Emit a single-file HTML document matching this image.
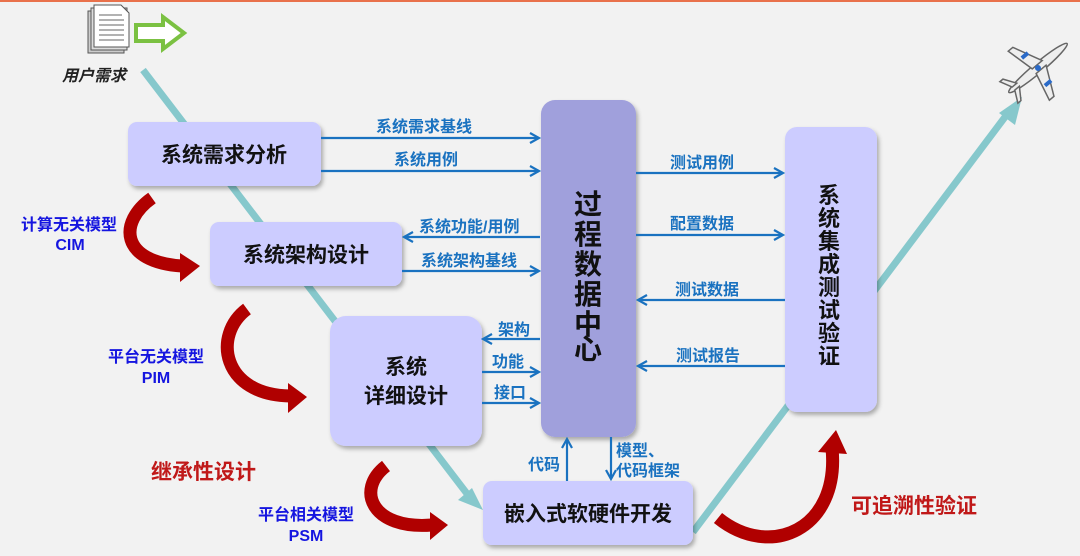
<!DOCTYPE html>
<html><head><meta charset="utf-8"><style>
html,body{margin:0;padding:0;background:#f2f2f2;}
svg{display:block;}
text{font-family:"Liberation Sans","Noto Sans CJK SC",sans-serif;font-weight:bold;}
</style></head><body>
<svg width="1080" height="556" viewBox="0 0 1080 556" xmlns="http://www.w3.org/2000/svg">
<defs>
<marker id="ah" markerWidth="12" markerHeight="12" refX="10" refY="6" orient="auto" markerUnits="userSpaceOnUse">
<path d="M1,1 L10,6 L1,11" fill="none" stroke="#1a72c0" stroke-width="2.2"/></marker>
<filter id="sh" x="-10%" y="-10%" width="130%" height="130%"><feDropShadow dx="2" dy="3" stdDeviation="2" flood-color="#000" flood-opacity="0.3"/></filter>
</defs>
<rect x="0" y="0" width="1080" height="2" fill="#e9714b"/>
<line x1="143" y1="70" x2="468" y2="495" stroke="#86c8cc" stroke-width="7"/>
<polygon points="483,510 458,500 472,488" fill="#86c8cc"/>
<line x1="693" y1="532" x2="1008" y2="113" stroke="#86c8cc" stroke-width="7"/>
<polygon points="1022,97 1015,125 999,113" fill="#86c8cc"/>
<g stroke="#555" stroke-width="1" fill="#fff">
<rect x="88" y="11" width="36" height="42" fill="#ccc"/>
<rect x="91" y="8" width="36" height="42" fill="#ddd"/>
<path d="M94,5 H121 L129,13 V47 H94 Z"/>
</g>
<g stroke="#666" stroke-width="1"><line x1="99" y1="15" x2="122" y2="15"/><line x1="99" y1="20" x2="124" y2="20"/><line x1="99" y1="25" x2="124" y2="25"/><line x1="99" y1="30" x2="124" y2="30"/><line x1="99" y1="35" x2="124" y2="35"/><line x1="99" y1="40" x2="124" y2="40"/></g>
<polygon points="136,25 163,25 163,17 184,33 163,49 163,41 136,41" fill="#fff" stroke="#7bc142" stroke-width="4"/>
<text x="62" y="81" font-size="16" font-style="italic" fill="#222">用户需求</text>
<g transform="translate(1038,68) rotate(-40)" stroke="#666" stroke-width="1.5" fill="#eee">
<ellipse cx="0" cy="0" rx="38" ry="5"/>
<polygon points="-5,-3 -12,-32 -6,-32 8,-3"/>
<polygon points="-5,3 -12,32 -6,32 8,3"/>
<polygon points="-32,-2 -38,-14 -34,-14 -26,-2"/>
<polygon points="-32,2 -38,14 -34,14 -26,2"/>
<circle cx="0" cy="0" r="3" fill="#2a6ac8" stroke="none"/>
<rect x="-6" y="-20" width="8" height="4" fill="#2a6ac8" stroke="none"/>
<rect x="-6" y="16" width="8" height="4" fill="#2a6ac8" stroke="none"/>
</g>
<g filter="url(#sh)">
<rect x="128" y="122" width="193" height="64" rx="9" fill="#ccccff"/>
<rect x="210" y="222" width="192" height="64" rx="9" fill="#ccccff"/>
<rect x="330" y="316" width="152" height="130" rx="16" fill="#ccccff"/>
<rect x="541" y="100" width="95" height="337" rx="14" fill="#a0a0dc"/>
<rect x="785" y="127" width="92" height="285" rx="12" fill="#ccccff"/>
<rect x="483" y="481" width="210" height="64" rx="9" fill="#ccccff"/>
</g>
<g fill="#111" text-anchor="middle" font-size="21">
<text x="224" y="162">系统需求分析</text>
<text x="306" y="262">系统架构设计</text>
<text x="406" y="374">系统</text>
<text x="406" y="403">详细设计</text>
<text x="588" y="521">嵌入式软硬件开发</text>
</g>
<g fill="#111" text-anchor="middle" font-size="28">
<text x="588" y="214">过</text><text x="588" y="244">程</text><text x="588" y="274">数</text><text x="588" y="304">据</text><text x="588" y="334">中</text><text x="588" y="359">心</text>
</g>
<g fill="#111" text-anchor="middle" font-size="22">
<text x="829" y="203">系</text><text x="829" y="226">统</text><text x="829" y="249">集</text><text x="829" y="272">成</text><text x="829" y="295">测</text><text x="829" y="318">试</text><text x="829" y="341">验</text><text x="829" y="364">证</text>
</g>
<g stroke="#1a72c0" stroke-width="2.2" marker-end="url(#ah)">
<line x1="321" y1="138" x2="539" y2="138"/>
<line x1="321" y1="171" x2="539" y2="171"/>
<line x1="540" y1="237" x2="404" y2="237"/>
<line x1="402" y1="271" x2="539" y2="271"/>
<line x1="540" y1="339" x2="483" y2="339"/>
<line x1="482" y1="372" x2="539" y2="372"/>
<line x1="482" y1="403" x2="539" y2="403"/>
<line x1="636" y1="173" x2="783" y2="173"/>
<line x1="636" y1="235" x2="783" y2="235"/>
<line x1="785" y1="300" x2="638" y2="300"/>
<line x1="785" y1="366" x2="638" y2="366"/>
<line x1="567" y1="481" x2="567" y2="439"/>
<line x1="611" y1="437" x2="611" y2="479"/>
</g>
<g fill="#1a72c0" font-size="16">
<text x="376" y="132">系统需求基线</text>
<text x="394" y="165">系统用例</text>
<text x="419" y="232">系统功能/用例</text>
<text x="421" y="266">系统架构基线</text>
<text x="498" y="335">架构</text>
<text x="492" y="367">功能</text>
<text x="494" y="398">接口</text>
<text x="670" y="168">测试用例</text>
<text x="670" y="229">配置数据</text>
<text x="675" y="295">测试数据</text>
<text x="676" y="361">测试报告</text>
<text x="528" y="470">代码</text>
<text x="616" y="456">模型、</text>
<text x="616" y="476">代码框架</text>
</g>
<g fill="#1515e0" font-size="16" text-anchor="middle">
<text x="69" y="230">计算无关模型</text><text x="70" y="250">CIM</text>
<text x="156" y="362">平台无关模型</text><text x="156" y="383">PIM</text>
<text x="306" y="520">平台相关模型</text><text x="306" y="541">PSM</text>
</g>
<text x="151" y="479" font-size="21" fill="#c01818">继承性设计</text>
<text x="851" y="513" font-size="21" fill="#c01818">可追溯性验证</text>
<g fill="none" stroke="#b00000" stroke-width="13" stroke-linecap="butt">
<path d="M152,198 C118,222 120,262 182,266"/>
<path d="M247,309 C212,335 222,395 290,396"/>
<path d="M386,466 C355,490 372,530 432,525"/>
<path d="M718,518 C770,560 840,530 832,448"/>
</g>
<g fill="#b00000">
<polygon points="180,253 200,266 180,282"/>
<polygon points="288,383 307,397 288,413"/>
<polygon points="430,512 448,525 430,540"/>
<polygon points="818,452 836,430 847,454"/>
</g>
</svg>
</body></html>
